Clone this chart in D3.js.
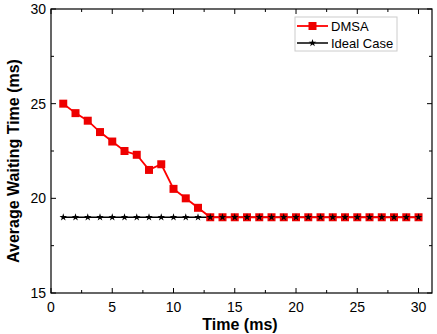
<!DOCTYPE html>
<html>
<head>
<meta charset="utf-8">
<script src="https://cdn.jsdelivr.net/npm/d3@7"></script>
<style>
  body { margin: 0; background: #fff; }
  text { font-family: "Liberation Sans", Arial, sans-serif; }
</style>
</head>
<body>
<svg id="chart" width="437" height="334"></svg>
<script>
// data
const time = d3.range(1, 31);
const dmsa = [25, 24.5, 24.1, 23.5, 23.0, 22.5, 22.3, 21.5, 21.8, 20.5, 20.0, 19.5,
    19, 19, 19, 19, 19, 19, 19, 19, 19, 19, 19, 19, 19, 19, 19, 19, 19, 19];
const ideal = time.map(() => 19);
const xTicks = [0, 5, 10, 15, 20, 25, 30];
const yTicks = [15, 20, 25, 30];

const svg = d3.select("#chart");
const M = { left: 51, top: 9, right: 432, bottom: 293 };

const x = d3.scaleLinear().domain([0, 31.1]).range([M.left, M.right]);
const y = d3.scaleLinear().domain([15, 30]).range([M.bottom, M.top]);

// frame
svg.append("rect")
    .attr("x", M.left).attr("y", M.top)
    .attr("width", M.right - M.left).attr("height", M.bottom - M.top)
    .attr("fill", "none").attr("stroke", "#000").attr("stroke-width", 1.2);

const xMinor = d3.range(0, 31, 2.5);
const yMinor = d3.range(15, 30.1, 2.5);

// ticks pointing inward on all four sides
const ticks = svg.append("g").attr("stroke", "#000").attr("stroke-width", 1);
xMinor.forEach(v => {
    const len = xTicks.includes(v) ? 5 : 3;
    ticks.append("line").attr("x1", x(v)).attr("x2", x(v)).attr("y1", M.bottom).attr("y2", M.bottom - len);
    ticks.append("line").attr("x1", x(v)).attr("x2", x(v)).attr("y1", M.top).attr("y2", M.top + len);
});
yMinor.forEach(v => {
    const len = yTicks.includes(v) ? 5 : 3;
    ticks.append("line").attr("y1", y(v)).attr("y2", y(v)).attr("x1", M.left).attr("x2", M.left + len);
    ticks.append("line").attr("y1", y(v)).attr("y2", y(v)).attr("x1", M.right).attr("x2", M.right - len);
});

// tick labels
svg.append("g").selectAll("text").data(xTicks).join("text")
    .attr("x", d => x(d)).attr("y", 312)
    .attr("text-anchor", "middle").attr("font-size", 14)
    .text(d => d);
svg.append("g").selectAll("text").data(yTicks).join("text")
    .attr("x", 46).attr("y", d => y(d) + 5)
    .attr("text-anchor", "end").attr("font-size", 14)
    .text(d => d);

// axis titles
svg.append("text")
    .attr("transform", "translate(19,161) rotate(-90)")
    .attr("text-anchor", "middle").attr("font-size", 16).attr("font-weight", "bold")
    .text("Average Waiting Time (ms)");
svg.append("text")
    .attr("x", 240).attr("y", 330)
    .attr("text-anchor", "middle").attr("font-size", 16).attr("font-weight", "bold")
    .text("Time (ms)");

// lines
const line = d3.line().x((d, i) => x(time[i])).y(d => y(d));
const star = d3.symbol().type(d3.symbolStar).size(18);
const square = d3.symbol().type(d3.symbolSquare).size(64);

svg.append("path").datum(ideal)
    .attr("d", line).attr("fill", "none").attr("stroke", "#000").attr("stroke-width", 1.5);
svg.append("path").datum(dmsa)
    .attr("d", line).attr("fill", "none").attr("stroke", "#ff0000").attr("stroke-width", 1.8);

svg.append("g").selectAll("path").data(dmsa).join("path")
    .attr("transform", (d, i) => `translate(${x(time[i])},${y(d)})`)
    .attr("d", square).attr("fill", "#ee0000");
svg.append("g").selectAll("path").data(ideal).join("path")
    .attr("transform", (d, i) => `translate(${x(time[i])},${y(d)})`)
    .attr("d", star).attr("fill", "#000");

// legend
const lg = svg.append("g");
lg.append("rect")
    .attr("x", 295).attr("y", 17).attr("width", 102).attr("height", 34)
    .attr("fill", "#fff").attr("stroke", "#ccc").attr("stroke-width", 1);
const legendItems = [
    { label: "DMSA", color: "#ff0000", sym: square, fill: "#ee0000", w: 1.8 },
    { label: "Ideal Case", color: "#000", sym: star, fill: "#000", w: 1.5 }
];
legendItems.forEach((it, i) => {
    const ly = 26 + i * 17;
    lg.append("line").attr("x1", 297).attr("x2", 328).attr("y1", ly).attr("y2", ly)
        .attr("stroke", it.color).attr("stroke-width", it.w);
    lg.append("path").attr("transform", `translate(312.5,${ly})`).attr("d", it.sym).attr("fill", it.fill);
    lg.append("text").attr("x", 331).attr("y", ly + 5).attr("font-size", 13).text(it.label);
});
</script>
</body>
</html>
